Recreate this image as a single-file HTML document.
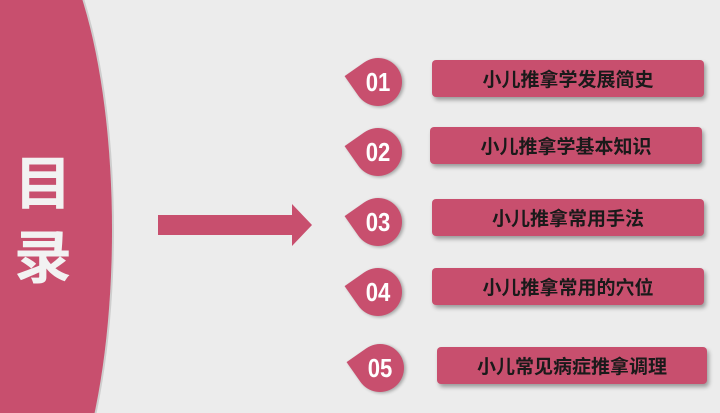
<!DOCTYPE html>
<html style="width:720px;height:413px;overflow:hidden"><head><meta charset="utf-8"><style>
html,body{margin:0;width:720px;height:413px;overflow:hidden}
body{background:#ececec;position:relative;font-family:"Liberation Sans","Noto Sans CJK SC",sans-serif}
.t{position:absolute;left:14px;color:#f2f2f2;font-weight:bold;font-size:58px;line-height:58px;font-family:"Noto Sans CJK SC",sans-serif}
.b{position:absolute;width:48px;height:48px;background:#c84f6e;border-radius:0 50% 50% 50%;transform:rotate(-35deg);box-shadow:1px 2px 3px rgba(0,0,0,.3)}
.n{position:absolute;width:48px;text-align:center;color:#fff;font-weight:bold;font-size:26px;line-height:48px;font-family:"Liberation Sans Narrow","Liberation Sans",sans-serif;transform:scaleX(.85)}
.r{position:absolute;height:37px;background:#c84f6e;border-radius:4px;box-shadow:2px 3px 4px rgba(0,0,0,.35);color:#1a1a1a;font-weight:bold;font-size:19px;line-height:37px;text-align:center;font-family:"Noto Sans CJK SC",sans-serif}
</style></head><body>
<svg style="position:absolute;left:0;top:0" width="720" height="413">
<ellipse cx="17" cy="230" rx="97" ry="320" fill="#b0b0b0" opacity=".5"/>
<ellipse cx="15" cy="230" rx="97" ry="320" fill="#c84f6e"/>
<polygon points="158,215 292,215 292,204 312,225 292,246 292,235 158,235" fill="#c84f6e"/></svg>
<div class="t" style="top:150px">目</div>
<div class="t" style="top:224px">录</div>

<div class="b" style="left:354px;top:58px"></div><div class="n" style="left:354px;top:58px">01</div>
<div class="r" style="left:432px;top:60px;width:272px">小儿推拿学发展简史</div>

<div class="b" style="left:354px;top:128px"></div><div class="n" style="left:354px;top:128px">02</div>
<div class="r" style="left:430px;top:127px;width:272px">小儿推拿学基本知识</div>

<div class="b" style="left:354px;top:198px"></div><div class="n" style="left:354px;top:198px">03</div>
<div class="r" style="left:432px;top:199px;width:272px">小儿推拿常用手法</div>

<div class="b" style="left:354px;top:268px"></div><div class="n" style="left:354px;top:268px">04</div>
<div class="r" style="left:432px;top:268px;width:272px">小儿推拿常用的穴位</div>

<div class="b" style="left:356px;top:344px"></div><div class="n" style="left:356px;top:344px">05</div>
<div class="r" style="left:437px;top:347px;width:270px">小儿常见病症推拿调理</div>
</body></html>
